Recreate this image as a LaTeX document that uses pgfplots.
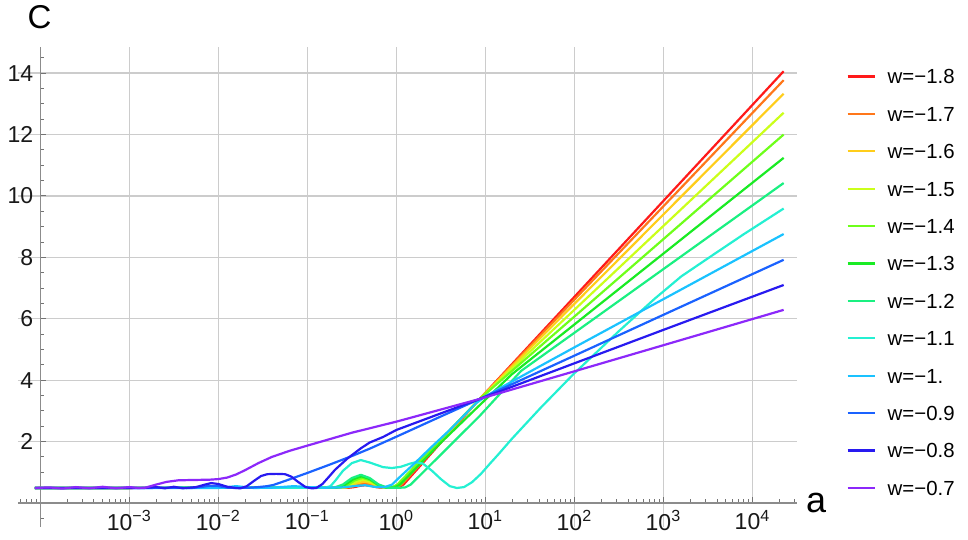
\documentclass[border=0pt]{standalone}
\usepackage{pgfplots}
\pgfplotsset{compat=1.18}
\usepackage{fontspec}
\setmainfont{Liberation Sans}
\definecolor{c18}{RGB}{255,26,26}
\definecolor{c17}{RGB}{255,119,26}
\definecolor{c16}{RGB}{255,205,26}
\definecolor{c15}{RGB}{203,255,26}
\definecolor{c14}{RGB}{110,255,26}
\definecolor{c13}{RGB}{26,235,36}
\definecolor{c12}{RGB}{26,240,129}
\definecolor{c11}{RGB}{36,240,210}
\definecolor{c10}{RGB}{26,194,255}
\definecolor{c09}{RGB}{26,98,255}
\definecolor{c08}{RGB}{40,26,240}
\definecolor{c07}{RGB}{140,40,250}
\begin{document}
\begin{tikzpicture}
\useasboundingbox (-9pt,-6.5pt) rectangle (475pt,263.5pt);
\begin{axis}[
  at={(0pt,0pt)}, anchor=south west,
  scale only axis, width=389.5pt, height=240pt,
  xmin=-0.25, xmax=8.5, ymin=-0.78, ymax=14.85,
  axis lines=middle,
  axis line style={-, draw=black!45, line width=0.65pt},
  every inner x axis line/.append style={-},
  every inner y axis line/.append style={-},
  xtick={1,2,3,4,5,6,7,8},
  xticklabels={10\textsuperscript{−3},10\textsuperscript{−2},10\textsuperscript{−1},10\textsuperscript{0},10\textsuperscript{1},10\textsuperscript{2},10\textsuperscript{3},10\textsuperscript{4}},
  ytick={2,4,6,8,10,12,14},
  yticklabels={2,4,6,8,10,12,14},
  minor xtick={-0.22185,-0.15490,-0.09691,-0.04576,
    0.30103,0.47712,0.60206,0.69897,0.77815,0.84510,0.90309,0.95424,
    1.30103,1.47712,1.60206,1.69897,1.77815,1.84510,1.90309,1.95424,
    2.30103,2.47712,2.60206,2.69897,2.77815,2.84510,2.90309,2.95424,
    3.30103,3.47712,3.60206,3.69897,3.77815,3.84510,3.90309,3.95424,
    4.30103,4.47712,4.60206,4.69897,4.77815,4.84510,4.90309,4.95424,
    5.30103,5.47712,5.60206,5.69897,5.77815,5.84510,5.90309,5.95424,
    6.30103,6.47712,6.60206,6.69897,6.77815,6.84510,6.90309,6.95424,
    7.30103,7.47712,7.60206,7.69897,7.77815,7.84510,7.90309,7.95424,
    8.30103,8.47712},
  minor ytick={-0.5,0.5,1,1.5,2.5,3,3.5,4.5,5,5.5,6.5,7,7.5,8.5,9,9.5,10.5,11,11.5,12.5,13,13.5,14.5},
  grid=major,
  major grid style={black!20, line width=0.6pt},
  major x grid style={black!20, line width=0.6pt, shorten <=12pt},
  tick style={black!55, line width=0.5pt},
  major tick length=3pt, minor tick length=2pt,
  tick align=inside,
  ticklabel style={font=\fontsize{11.5}{13}\selectfont, text=black!90},
  every axis plot/.append style={line width=1.1pt, line join=round},
  legend cell align=left,
  legend image code/.code={\draw[#1] (0pt,0pt) -- (13.5pt,0pt);},
  legend style={draw=none, fill=none, inner sep=0pt,
    at={(axis description cs:1.063,0.955)}, anchor=north west,
    font=\fontsize{10.2}{12}\selectfont, row sep=11.2pt, column sep=6pt,
    nodes={inner sep=0pt, text height=7.5pt, text depth=0pt}},
]
\addplot[c18] coordinates {(-0.06,0.49)(3.47,0.5)(3.53,0.52)(3.59,0.56)(3.65,0.58)(3.71,0.56)(3.77,0.52)(3.83,0.5)(3.97,0.5)(4.02,0.51)(4.08,0.6)(4.936,3.39)(8.35,14.06)};
\addlegendentry{w=−1.8}
\addplot[c17] coordinates {(-0.06,0.49)(3.44,0.5)(3.507,0.535)(3.573,0.605)(3.64,0.64)(3.707,0.605)(3.773,0.535)(3.84,0.5)(3.95,0.5)(4.0,0.51)(4.06,0.6)(4.936,3.39)(8.35,13.77)};
\addlegendentry{w=−1.7}
\addplot[c16] coordinates {(-0.06,0.49)(3.42,0.5)(3.493,0.55)(3.567,0.65)(3.64,0.70)(3.713,0.65)(3.787,0.55)(3.86,0.5)(3.93,0.5)(3.98,0.51)(4.04,0.6)(4.936,3.39)(8.35,13.33)};
\addlegendentry{w=−1.6}
\addplot[c15] coordinates {(-0.06,0.49)(3.39,0.5)(3.47,0.565)(3.55,0.695)(3.63,0.76)(3.71,0.695)(3.79,0.565)(3.87,0.5)(3.91,0.5)(3.96,0.51)(4.02,0.6)(4.936,3.39)(8.35,12.71)};
\addlegendentry{w=−1.5}
\addplot[c14] coordinates {(-0.06,0.49)(3.36,0.5)(3.447,0.58)(3.533,0.74)(3.62,0.82)(3.707,0.74)(3.793,0.58)(3.88,0.5)(3.90,0.5)(3.95,0.51)(4.01,0.6)(4.936,3.39)(8.35,12.0)};
\addlegendentry{w=−1.4}
\addplot[c13] coordinates {(-0.06,0.49)(3.33,0.5)(3.423,0.593)(3.517,0.778)(3.61,0.87)(3.703,0.778)(3.797,0.593)(3.89,0.5)(3.93,0.5)(3.98,0.51)(4.04,0.6)(4.494,1.95)(4.94,3.2)(5.3,4.2)(8.35,11.24)};
\addlegendentry{w=−1.3}
\addplot[c12] coordinates {(-0.06,0.49)(3.30,0.5)(3.40,0.605)(3.50,0.815)(3.60,0.92)(3.70,0.815)(3.80,0.605)(3.90,0.5)(4.05,0.5)(4.1,0.51)(4.16,0.6)(4.494,1.56)(4.94,2.85)(5.4,4.30)(8.35,10.42)};
\addlegendentry{w=−1.2}
\addplot[c11] coordinates {(-0.06,0.49)(3.0,0.5)(3.1,0.52)(3.2,0.5)(3.26,0.55)(3.32,0.75)(3.4,1.05)(3.5,1.3)(3.6,1.4)(3.7,1.32)(3.85,1.17)(3.95,1.14)(4.05,1.18)(4.15,1.28)(4.22,1.33)(4.3,1.28)(4.4,1.05)(4.5,0.78)(4.6,0.55)(4.68,0.49)(4.76,0.52)(4.85,0.68)(4.95,0.95)(5.05,1.28)(5.15,1.6)(5.3,2.1)(5.62,3.1)(5.99,4.2)(6.5,5.6)(6.9,6.65)(7.2,7.38)(7.5,7.97)(7.9,8.75)(8.35,9.59)};
\addlegendentry{w=−1.1}
\addplot[c10] coordinates {(-0.06,0.49)(2.0,0.49)(2.1,0.52)(2.2,0.55)(2.3,0.52)(2.4,0.49)(2.6,0.5)(2.75,0.53)(2.85,0.55)(3.0,0.52)(3.2,0.5)(3.4,0.51)(3.55,0.56)(3.65,0.58)(3.75,0.53)(3.86,0.51)(3.95,0.6)(4.05,0.88)(4.2,1.28)(4.4,1.84)(4.6,2.38)(4.8,2.97)(4.9,3.26)(5.0,3.47)(5.15,3.72)(5.3,3.96)(6.0,5.07)(7.0,6.64)(8.35,8.76)};
\addlegendentry{w=−1.}
\addplot[c09] coordinates {(-0.06,0.49)(1.16,0.49)(1.5,0.5)(1.7,0.49)(1.8,0.52)(1.9,0.56)(2.0,0.55)(2.1,0.5)(2.2,0.49)(2.35,0.5)(2.45,0.52)(2.55,0.55)(2.62,0.59)(2.75,0.72)(3.0,0.98)(3.25,1.25)(3.5,1.53)(3.7,1.77)(4.0,2.16)(4.5,2.82)(4.936,3.39)(6.0,4.80)(7.0,6.13)(8.35,7.92)};
\addlegendentry{w=−0.9}
\addplot[c08] coordinates {(-0.06,0.49)(1.16,0.49)(1.3,0.52)(1.4,0.48)(1.5,0.53)(1.6,0.48)(1.75,0.52)(1.85,0.60)(1.92,0.65)(2.0,0.62)(2.1,0.53)(2.2,0.49)(2.25,0.48)(2.32,0.55)(2.4,0.72)(2.48,0.88)(2.55,0.94)(2.65,0.95)(2.75,0.94)(2.82,0.86)(2.9,0.68)(2.98,0.52)(3.05,0.48)(3.1,0.49)(3.17,0.62)(3.25,0.88)(3.31,1.08)(3.45,1.45)(3.6,1.78)(3.7,1.97)(3.85,2.15)(4.0,2.38)(4.5,2.92)(4.936,3.39)(6.0,4.55)(7.0,5.64)(8.35,7.10)};
\addlegendentry{w=−0.8}
\addplot[c07] coordinates {(-0.06,0.49)(0.1,0.51)(0.25,0.47)(0.4,0.52)(0.55,0.48)(0.7,0.53)(0.85,0.48)(1.0,0.52)(1.1,0.49)(1.18,0.50)(1.3,0.60)(1.42,0.69)(1.55,0.74)(1.7,0.75)(1.9,0.76)(2.0,0.78)(2.1,0.83)(2.2,0.93)(2.3,1.07)(2.45,1.30)(2.6,1.50)(2.8,1.70)(3.0,1.87)(3.5,2.29)(4.0,2.65)(4.936,3.39)(6.0,4.29)(7.0,5.14)(8.35,6.29)};
\addlegendentry{w=−0.7}
\end{axis}
\node[font=\fontsize{16.5}{18}\selectfont] at (10.75pt,255pt) {C};
\node[font=\fontsize{18}{20}\selectfont] at (399pt,12pt) {a};
\end{tikzpicture}
\end{document}
